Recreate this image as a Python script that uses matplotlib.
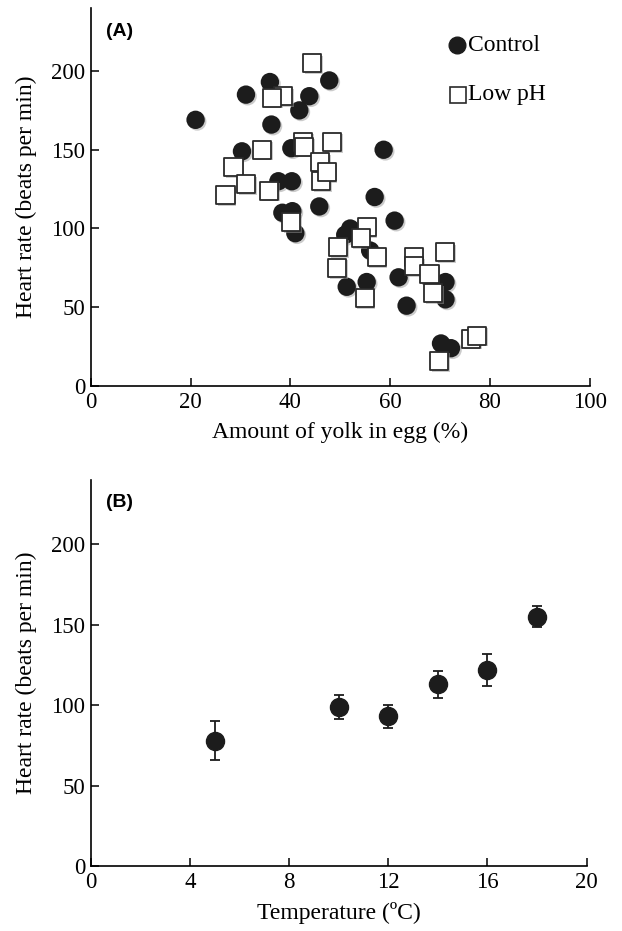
import matplotlib
matplotlib.use("Agg")
from matplotlib import pyplot as plt
from matplotlib import patheffects as pe

# panel A: heart rate vs yolk
control_yolk = [21.0, 31.1, 35.9, 47.8, 43.8, 41.8, 36.2, 30.3, 40.2, 58.7,
                37.6, 40.3, 38.4, 40.4, 41.0, 45.8, 56.9, 60.9, 52.0, 51.0,
                56.0, 51.3, 55.3, 61.7, 63.3, 71.1, 71.1, 70.2, 72.2]
control_hr = [169, 185, 193, 194, 184, 175, 166, 149, 151, 150,
              130, 130, 110, 111, 97, 114, 120, 105, 100, 96,
              86, 63, 66, 69, 51, 66, 55, 27, 24]

lowph_yolk = [44.4, 38.6, 36.3, 34.4, 42.5, 42.7, 48.4, 28.6, 31.1, 27.0,
              35.7, 46.0, 46.2, 47.3, 40.2, 55.3, 54.1, 49.6, 49.4, 57.3,
              54.9, 64.7, 64.8, 67.9, 68.6, 71.0, 69.8, 76.3, 77.5]
lowph_hr = [205, 184, 183, 150, 155, 152, 155, 139, 128, 121,
            124, 142, 130, 136, 104, 101, 94, 88, 75, 82,
            56, 82, 76, 71, 59, 85, 16, 30, 32]

# panel B: heart rate vs temperature
temp = [5, 10, 12, 14, 16, 18]
temp_hr = [78, 99, 93, 113, 122, 155]
temp_err = [12, 7.5, 7, 8.5, 10, 6.5]

serif = "Liberation Serif"
fs_tick = 16.5
fs_lab = 17

fig = plt.figure(figsize=(6.22, 9.31), dpi=100)
ax1 = fig.add_axes([0.146, 0.5854, 0.802, 0.406])
ax2 = fig.add_axes([0.146, 0.0698, 0.797, 0.4146])

shadow = [pe.SimplePatchShadow(offset=(1.2, -1.2), shadow_rgbFace="0.6", alpha=0.5), pe.Normal()]

ax1.scatter(control_yolk, control_hr, s=175, marker="o", color="#1c1c1c",
            linewidths=0, zorder=3, path_effects=shadow)
ax1.scatter(lowph_yolk, lowph_hr, s=170, marker="s", facecolor="white",
            edgecolor="#2a2a2a", linewidths=1.3, zorder=4, path_effects=shadow)
ax1.set_xlim(0, 100)
ax1.set_ylim(0, 240)
ax1.set_xticks([0, 20, 40, 60, 80, 100])
ax1.set_yticks([0, 50, 100, 150, 200])
ax1.set_xlabel("Amount of yolk in egg (%)", fontfamily=serif, fontsize=fs_lab, labelpad=7)
ax1.set_ylabel("Heart rate (beats per min)", fontfamily=serif, fontsize=fs_lab, labelpad=10)
ax1.text(0.03, 0.96, "(A)", transform=ax1.transAxes, fontfamily="Liberation Sans",
         fontweight="bold", fontsize=14, va="top", ha="left")

# legend
ax1.plot([0.735], [0.902], "o", color="#1c1c1c", ms=12, transform=ax1.transAxes, clip_on=False)
ax1.text(0.757, 0.902, "Control", transform=ax1.transAxes, fontfamily=serif,
         fontsize=fs_lab, va="center", ha="left")
ax1.plot([0.737], [0.770], "s", mfc="white", mec="#2a2a2a", mew=1.2, ms=11,
         transform=ax1.transAxes, clip_on=False)
ax1.text(0.757, 0.770, "Low pH", transform=ax1.transAxes, fontfamily=serif,
         fontsize=fs_lab, va="center", ha="left")

ax2.errorbar(temp, temp_hr, yerr=temp_err, fmt="o", color="#1c1c1c", ms=13,
             ecolor="#1c1c1c", elinewidth=1.3, capsize=3.5, capthick=1.3, zorder=3)
ax2.set_xlim(0, 20)
ax2.set_ylim(0, 240)
ax2.set_xticks([0, 4, 8, 12, 16, 20])
ax2.set_yticks([0, 50, 100, 150, 200])
ax2.set_xlabel("Temperature (ºC)", fontfamily=serif, fontsize=fs_lab, labelpad=7)
ax2.set_ylabel("Heart rate (beats per min)", fontfamily=serif, fontsize=fs_lab, labelpad=10)
ax2.text(0.03, 0.965, "(B)", transform=ax2.transAxes, fontfamily="Liberation Sans",
         fontweight="bold", fontsize=14, va="top", ha="left")

for ax in (ax1, ax2):
    ax.spines["top"].set_visible(False)
    ax.spines["right"].set_visible(False)
    ax.spines["left"].set_linewidth(1.2)
    ax.spines["bottom"].set_linewidth(1.2)
    ax.tick_params(direction="in", length=6, width=1.1, labelsize=fs_tick, pad=4)
    for lab in ax.get_xticklabels() + ax.get_yticklabels():
        lab.set_fontfamily(serif)

fig.savefig("out.png", dpi=100)
